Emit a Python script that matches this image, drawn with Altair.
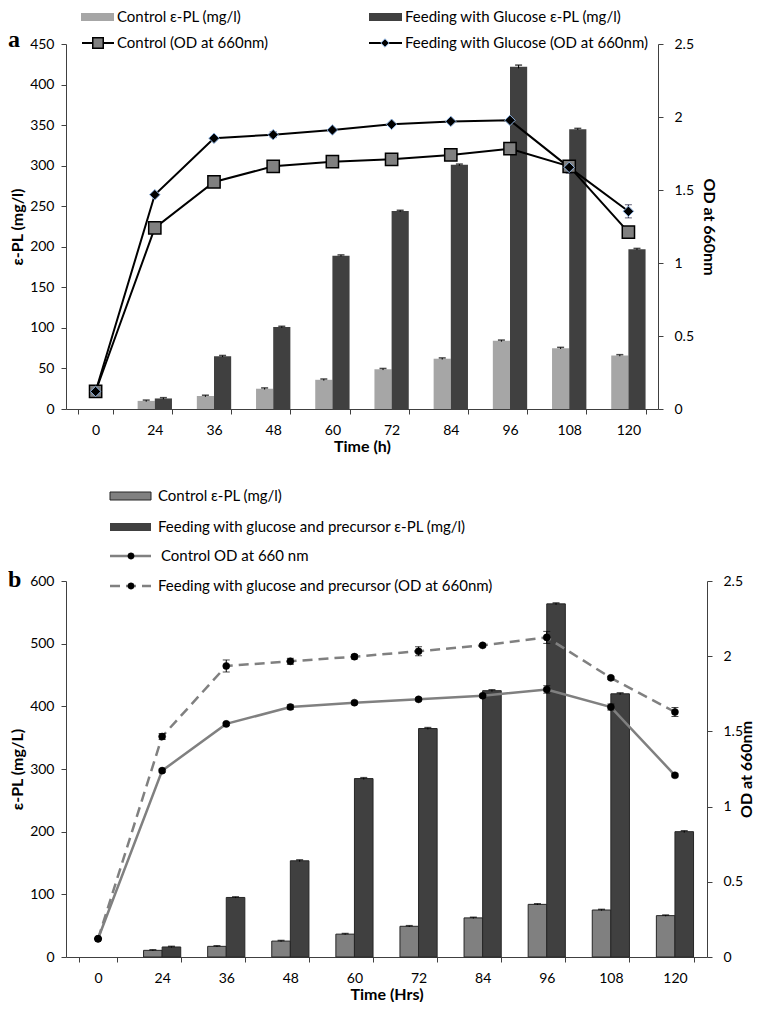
import altair as alt
import pandas as pd

times = ["0", "24", "36", "48", "60", "72", "84", "96", "108", "120"]

# ---------------- Panel a ----------------
a_bar_series = ["Control ε-PL (mg/l)", "Feeding with Glucose ε-PL (mg/l)"]
a_ctrl_pl = [None, 10, 16, 25, 36, 49, 62, 84, 75, 66]
a_ctrl_pl_err = [None, 1, 1, 1, 1, 1, 1, 1, 1, 1]
a_glu_pl = [None, 13, 65, 101, 189, 244, 301, 422, 345, 197]
a_glu_pl_err = [None, 1, 1, 1, 1, 1, 1, 2, 1, 1]

a_line_series = ["Control (OD at 660nm)", "Feeding with Glucose (OD at 660nm)"]
a_ctrl_od = [0.12, 1.24, 1.555, 1.662, 1.694, 1.71, 1.74, 1.783, 1.662, 1.212]
a_ctrl_od_err = [0.01, 0.01, 0.01, 0.01, 0.01, 0.01, 0.01, 0.01, 0.03, 0.01]
a_glu_od = [0.12, 1.468, 1.854, 1.879, 1.911, 1.95, 1.97, 1.977, 1.655, 1.354]
a_glu_od_err = [0.01, 0.01, 0.01, 0.02, 0.01, 0.01, 0.01, 0.01, 0.04, 0.045]

# ---------------- Panel b ----------------
b_bar_series = ["Control ε-PL (mg/l)", "Feeding with glucose and precursor ε-PL (mg/l)"]
b_ctrl_pl = [None, 10.6, 17, 25.4, 36.5, 49, 62.4, 84, 75, 66]
b_ctrl_pl_err = [None, 1, 1, 1, 1, 1, 1, 1, 1, 1]
b_feed_pl = [None, 16, 95, 153.5, 284.7, 364.6, 425, 563.5, 420, 200]
b_feed_pl_err = [None, 1, 1, 1.5, 1.5, 1.5, 1.5, 1.5, 1.5, 1.5]

b_line_series = ["Control OD at 660 nm", "Feeding with glucose and precursor (OD at 660nm)"]
b_ctrl_od = [0.121, 1.239, 1.55, 1.662, 1.691, 1.713, 1.737, 1.779, 1.662, 1.208]
b_ctrl_od_err = [0.0, 0.01, 0.01, 0.015, 0.01, 0.01, 0.01, 0.025, 0.02, 0.01]
b_feed_od = [0.121, 1.466, 1.935, 1.966, 1.997, 2.033, 2.072, 2.125, 1.856, 1.629]
b_feed_od_err = [0.0, 0.02, 0.04, 0.02, 0.015, 0.03, 0.01, 0.04, 0.01, 0.03]

FONT = "Lato"
AXIS_COLOR = "#404040"
LEG_SIZE = 15


def bar_df(names, vals_list, errs_list):
    rows = []
    for s, vals, errs in zip(names, vals_list, errs_list):
        for t, v, e in zip(times, vals, errs):
            if v is None:
                continue
            rows.append({"time": t, "series": s, "value": v, "lo": v - e, "hi": v + e})
    return pd.DataFrame(rows)


def line_df(names, vals_list, errs_list):
    rows = []
    for s, vals, errs in zip(names, vals_list, errs_list):
        for t, v, e in zip(times, vals, errs):
            rows.append({"time": t, "series": s, "od": v, "lo": v - e, "hi": v + e})
    return pd.DataFrame(rows)


def xenc(title):
    return alt.X(
        "time:N", sort=times,
        scale=alt.Scale(domain=times, paddingInner=0.42, paddingOuter=0.21),
        axis=alt.Axis(title=title, labelAngle=0, tickBand="extent", tickSize=5,
                      domainColor=AXIS_COLOR, tickColor=AXIS_COLOR,
                      labelFont=FONT, labelFontSize=14, labelColor="black", labelPadding=9,
                      titleFont=FONT, titleFontSize=16, titleFontWeight="bold",
                      titleColor="black", titlePadding=1),
    )


def left_axis(title, maxv, step):
    return alt.Axis(title=title, values=list(range(0, maxv + 1, step)), grid=False,
                    tickSize=5, domainColor=AXIS_COLOR, tickColor=AXIS_COLOR,
                    labelFont=FONT, labelFontSize=14, labelColor="black", labelPadding=7,
                    titleFont=FONT, titleFontSize=16, titleFontWeight="bold",
                    titleColor="black", titlePadding=4)


def right_axis(angle, pad):
    return alt.Axis(title="OD at 660nm", orient="right", values=[0, 0.5, 1, 1.5, 2, 2.5],
                    labelExpr="'' + datum.value", grid=False,
                    tickSize=5, domainColor=AXIS_COLOR, tickColor=AXIS_COLOR,
                    labelFont=FONT, labelFontSize=14, labelColor="black", labelPadding=11,
                    titleFont=FONT, titleFontSize=16, titleFontWeight="bold",
                    titleColor="black", titlePadding=pad, titleAngle=angle)


def bar_group(df, names, colors, stroke, maxv, step, ytitle, xtitle):
    ax = left_axis(ytitle, maxv, step)
    ysc = alt.Scale(domain=[0, maxv], nice=False)
    xo = alt.XOffset("series:N", sort=names,
                     scale=alt.Scale(domain=names, paddingInner=0, paddingOuter=0))
    base = alt.Chart(df)
    bars = base.mark_bar(stroke=stroke if stroke else "transparent",
                         strokeWidth=1 if stroke else 0).encode(
        x=xenc(xtitle), xOffset=xo,
        y=alt.Y("value:Q", scale=ysc, axis=ax),
        color=alt.Color("series:N", scale=alt.Scale(domain=names, range=colors), legend=None),
    )
    err = base.mark_rule(color="black", strokeWidth=1).encode(
        x=xenc(xtitle), xOffset=xo,
        y=alt.Y("lo:Q", scale=ysc, axis=ax), y2="hi:Q")
    cap = base.mark_tick(color="black", size=7, thickness=1.5).encode(
        x=xenc(xtitle), xOffset=xo, y=alt.Y("hi:Q", scale=ysc, axis=ax))
    return alt.layer(bars, err, cap)


def one_df():
    return pd.DataFrame({"k": [0]})


def legend_text(label, x, y):
    return alt.Chart(pd.DataFrame({"t": [label]})).mark_text(
        align="left", baseline="middle", font=FONT, fontSize=LEG_SIZE, color="black"
    ).encode(x=alt.value(x), y=alt.value(y), text="t:N")


def legend_swatch(x0, x1, y, fill, stroke=None):
    kw = dict(fill=fill)
    if stroke:
        kw.update(stroke=stroke, strokeWidth=1)
    return alt.Chart(one_df()).mark_rect(**kw).encode(
        x=alt.value(x0), x2=alt.value(x1), y=alt.value(y - 4), y2=alt.value(y + 4))


def legend_line(x0, x1, y, color, width, dash=None):
    kw = dict(color=color, strokeWidth=width)
    if dash:
        kw["strokeDash"] = dash
    return alt.Chart(one_df()).mark_rule(**kw).encode(
        x=alt.value(x0), x2=alt.value(x1), y=alt.value(y))


def legend_marker(x, y, shape, size, fill, stroke, sw):
    return alt.Chart(one_df()).mark_point(
        shape=shape, size=size, filled=True, fill=fill, stroke=stroke, strokeWidth=sw,
        opacity=1, fillOpacity=1
    ).encode(x=alt.value(x), y=alt.value(y))


def panel_letter(letter, x, y):
    return alt.Chart(pd.DataFrame({"t": [letter]})).mark_text(
        align="left", baseline="alphabetic", font="Liberation Serif", fontWeight="bold",
        fontSize=24, color="black"
    ).encode(x=alt.value(x), y=alt.value(y), text="t:N")


# ---------- Panel a ----------
dfa_b = bar_df(a_bar_series, [a_ctrl_pl, a_glu_pl], [a_ctrl_pl_err, a_glu_pl_err])
dfa_l = line_df(a_line_series, [a_ctrl_od, a_glu_od], [a_ctrl_od_err, a_glu_od_err])

a_left = bar_group(dfa_b, a_bar_series, ["#a6a6a6", "#404040"], None, 450, 50,
                   "ε-PL (mg/l)", "Time (h)")

ra = right_axis(90, 7)
ysr = alt.Scale(domain=[0, 2.5], nice=False)
la = alt.Chart(dfa_l)
a_lines = la.mark_line(color="black", strokeWidth=2).encode(
    x=xenc("Time (h)"), y=alt.Y("od:Q", scale=ysr, axis=ra), detail="series:N")
a_lerr = la.mark_rule(color="#1f1f3f", strokeWidth=1).encode(
    x=xenc("Time (h)"), y=alt.Y("lo:Q", scale=ysr, axis=ra), y2="hi:Q")
a_lcap_lo = la.mark_tick(color="#1f1f3f", size=7, thickness=1).encode(
    x=xenc("Time (h)"), y=alt.Y("lo:Q", scale=ysr, axis=ra))
a_lcap_hi = la.mark_tick(color="#1f1f3f", size=7, thickness=1).encode(
    x=xenc("Time (h)"), y=alt.Y("hi:Q", scale=ysr, axis=ra))
a_sq = la.transform_filter(alt.datum.series == a_line_series[0]).mark_point(
    shape="square", size=150, filled=True, fill="#808080", stroke="black", strokeWidth=1.5,
    opacity=1, fillOpacity=1
).encode(x=xenc("Time (h)"), y=alt.Y("od:Q", scale=ysr, axis=ra))
a_dm = la.transform_filter(alt.datum.series == a_line_series[1]).mark_point(
    shape="diamond", size=110, filled=True, fill="black", stroke="#8db3e2", strokeWidth=1,
    opacity=1, fillOpacity=1
).encode(x=xenc("Time (h)"), y=alt.Y("od:Q", scale=ysr, axis=ra))
a_right = alt.layer(a_lines, a_lerr, a_lcap_lo, a_lcap_hi, a_sq, a_dm)

a_legend = [
    legend_swatch(15, 48, -27, "#a6a6a6"),
    legend_text(a_bar_series[0], 51, -27),
    legend_swatch(303, 336, -27, "#404040"),
    legend_text(a_bar_series[1], 339, -27),
    legend_line(16, 48, -1, "black", 2),
    legend_marker(32, -1, "square", 110, "#808080", "black", 1.5),
    legend_text(a_line_series[0], 51, -1),
    legend_line(303, 336, -1, "black", 2),
    legend_marker(319, -1, "diamond", 70, "black", "#8db3e2", 1),
    legend_text(a_line_series[1], 339, -1),
    panel_letter("a", -58, 3),
]

panel_a = alt.layer(a_left, a_right, *a_legend).resolve_scale(y="independent").properties(
    width=592, height=365)

# ---------- Panel b ----------
dfb_b = bar_df(b_bar_series, [b_ctrl_pl, b_feed_pl], [b_ctrl_pl_err, b_feed_pl_err])
dfb_l = line_df(b_line_series, [b_ctrl_od, b_feed_od], [b_ctrl_od_err, b_feed_od_err])

b_left = bar_group(dfb_b, b_bar_series, ["#808080", "#404040"], "#262626", 600, 100,
                   "ε-PL (mg/L)", "Time (Hrs)")

rb = right_axis(270, 12)
lb = alt.Chart(dfb_l)
b_ctrl_line = lb.transform_filter(alt.datum.series == b_line_series[0]).mark_line(
    color="#808080", strokeWidth=2.5).encode(
    x=xenc("Time (Hrs)"), y=alt.Y("od:Q", scale=ysr, axis=rb))
b_feed_line = lb.transform_filter(alt.datum.series == b_line_series[1]).mark_line(
    color="#808080", strokeWidth=2.5, strokeDash=[10, 6]).encode(
    x=xenc("Time (Hrs)"), y=alt.Y("od:Q", scale=ysr, axis=rb))
b_lerr = lb.mark_rule(color="black", strokeWidth=1).encode(
    x=xenc("Time (Hrs)"), y=alt.Y("lo:Q", scale=ysr, axis=rb), y2="hi:Q")
b_lcap_lo = lb.mark_tick(color="black", size=7, thickness=1).encode(
    x=xenc("Time (Hrs)"), y=alt.Y("lo:Q", scale=ysr, axis=rb))
b_lcap_hi = lb.mark_tick(color="black", size=7, thickness=1).encode(
    x=xenc("Time (Hrs)"), y=alt.Y("hi:Q", scale=ysr, axis=rb))
b_pts = lb.mark_point(shape="circle", size=50, filled=True, fill="black", stroke="black",
                      strokeWidth=0.5, opacity=1, fillOpacity=1).encode(
    x=xenc("Time (Hrs)"), y=alt.Y("od:Q", scale=ysr, axis=rb))
b_right = alt.layer(b_ctrl_line, b_feed_line, b_lerr, b_lcap_lo, b_lcap_hi, b_pts)

b_legend = [
    legend_swatch(44, 85, -85, "#808080", "#262626"),
    legend_text(b_bar_series[0], 92, -85),
    legend_swatch(44, 85, -54, "#404040"),
    legend_text(b_bar_series[1], 92, -54),
    legend_line(44, 85, -25, "#808080", 2.5),
    legend_marker(65, -25, "circle", 40, "black", "black", 0.5),
    legend_text(b_line_series[0], 95, -25),
    legend_line(44, 85, 5, "#808080", 2.5, [10, 6]),
    legend_marker(65, 5, "circle", 40, "black", "black", 0.5),
    legend_text(b_line_series[1], 92, 5),
    panel_letter("b", -58, 6),
]

panel_b = alt.layer(b_left, b_right, *b_legend).resolve_scale(y="independent").properties(
    width=641, height=376)

chart = alt.vconcat(panel_a, panel_b, spacing=35).resolve_scale(
    color="independent", xOffset="independent", x="independent"
).properties(padding={"top": 2, "left": 0, "right": 0, "bottom": 0}).configure(
    font=FONT).configure_view(stroke=None)

chart.save("out.html", embed_options={"renderer": "svg", "actions": False})
